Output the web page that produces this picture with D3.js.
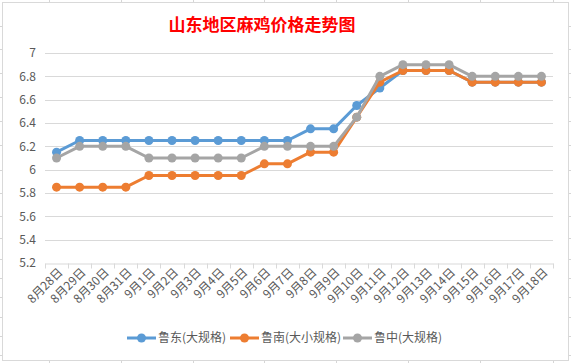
<!DOCTYPE html>
<html>
<head>
<meta charset="utf-8">
<script src="https://cdn.jsdelivr.net/npm/d3@7"></script>
<style>
  body { margin: 0; background: #fff; }
  text { font-family: "Noto Sans CJK SC", "Noto Sans", sans-serif; }
</style>
</head>
<body>
<div id="chart"></div>
<script>
const categories = ["8月28日", "8月29日", "8月30日", "8月31日", "9月1日", "9月2日", "9月3日", "9月4日",
  "9月5日", "9月6日", "9月7日", "9月8日", "9月9日", "9月10日", "9月11日", "9月12日", "9月13日",
  "9月14日", "9月15日", "9月16日", "9月17日", "9月18日"];

const ludong = [6.15, 6.25, 6.25, 6.25, 6.25, 6.25, 6.25, 6.25, 6.25, 6.25, 6.25, 6.35, 6.35,
  6.55, 6.7, 6.85, 6.85, 6.85, 6.75, 6.75, 6.75, 6.75];
const lunan = [5.85, 5.85, 5.85, 5.85, 5.95, 5.95, 5.95, 5.95, 5.95, 6.05, 6.05, 6.15, 6.15,
  6.45, 6.75, 6.85, 6.85, 6.85, 6.75, 6.75, 6.75, 6.75];
const luzhong = [6.1, 6.2, 6.2, 6.2, 6.1, 6.1, 6.1, 6.1, 6.1, 6.2, 6.2, 6.2, 6.2,
  6.45, 6.8, 6.9, 6.9, 6.9, 6.8, 6.8, 6.8, 6.8];

const seriesNames = ["鲁东(大规格)", "鲁南(大小规格)", "鲁中(大规格)"];
const yTicks = [5.2, 5.4, 5.6, 5.8, 6, 6.2, 6.4, 6.6, 6.8, 7];

const title = "山东地区麻鸡价格走势图";

const width = 571, height = 363;
const colors = ["#5b9bd5", "#ed7d31", "#a5a5a5"];
const series = [ludong, lunan, luzhong];

const svg = d3.select("#chart").append("svg")
  .attr("width", width)
  .attr("height", height);

// spreadsheet grid peeking around the chart
const sheet = svg.append("g").attr("stroke", "#d6d6d6").attr("stroke-width", 1);
[49, 121, 193, 264, 336, 408, 480, 553].forEach(x => {
  sheet.append("line").attr("x1", x + 0.5).attr("x2", x + 0.5).attr("y1", 0).attr("y2", 2);
  sheet.append("line").attr("x1", x + 0.5).attr("x2", x + 0.5).attr("y1", 361).attr("y2", 363);
});
[26, 49, 73, 97, 121, 145, 170, 193, 216, 238, 259, 278, 297, 317, 336, 355].forEach(y => {
  sheet.append("line").attr("x1", 0).attr("x2", 2).attr("y1", y + 0.5).attr("y2", y + 0.5);
  sheet.append("line").attr("x1", 569).attr("x2", 571).attr("y1", y + 0.5).attr("y2", y + 0.5);
});

// chart area
svg.append("rect")
  .attr("x", 2.5).attr("y", 2.5)
  .attr("width", 566).attr("height", 358)
  .attr("fill", "#fff")
  .attr("stroke", "#d9d9d9");

svg.append("text")
  .attr("x", 262).attr("y", 31)
  .attr("text-anchor", "middle")
  .attr("fill", "#ff0000")
  .attr("font-size", 17)
  .attr("font-weight", "bold")
  .text(title);

const x = d3.scaleBand()
  .domain(categories)
  .range([45, 553]);

const y = d3.scaleLinear()
  .domain([5.2, 7])
  .range([263, 53]);

// gridlines
svg.append("g")
  .selectAll("line")
  .data(yTicks.slice(1))
  .join("line")
  .attr("x1", 45).attr("x2", 553)
  .attr("y1", d => Math.round(y(d)) + 0.5)
  .attr("y2", d => Math.round(y(d)) + 0.5)
  .attr("stroke", "#d9d9d9");

// y labels
svg.append("g")
  .selectAll("text")
  .data(yTicks)
  .join("text")
  .attr("x", 36)
  .attr("y", d => y(d))
  .attr("dy", "0.35em")
  .attr("text-anchor", "end")
  .attr("fill", "#595959")
  .attr("font-size", 12)
  .text(d => d);

// x axis
const xAxis = svg.append("g")
  .attr("transform", `translate(0, ${Math.round(y(5.2)) + 0.5})`)
  .call(d3.axisBottom(x).tickSize(0).tickFormat(""));
xAxis.select(".domain").attr("stroke", "#d9d9d9");
xAxis.selectAll(".tickmark")
  .data(categories.map(c => x(c)).concat([x.range()[1]]))
  .join("line")
  .attr("class", "tickmark")
  .attr("x1", d => Math.round(d) + 0.5).attr("x2", d => Math.round(d) + 0.5)
  .attr("y1", 0).attr("y2", 5)
  .attr("stroke", "#d9d9d9");

svg.append("g")
  .selectAll("text")
  .data(categories)
  .join("text")
  .attr("transform", d => `translate(${x(d) + x.bandwidth() / 2 + 4}, 270) rotate(-45)`)
  .attr("dy", "0.35em")
  .attr("text-anchor", "end")
  .attr("fill", "#595959")
  .attr("font-size", 12)
  .text(d => d);

// lines
const line = d3.line()
  .x((d, i) => x(categories[i]) + x.bandwidth() / 2)
  .y(d => y(d));

series.forEach((vals, k) => {
  const g = svg.append("g");
  g.append("path")
    .datum(vals)
    .attr("d", line)
    .attr("fill", "none")
    .attr("stroke", colors[k])
    .attr("stroke-width", 3)
    .attr("stroke-linejoin", "round");
  g.selectAll("circle")
    .data(vals)
    .join("circle")
    .attr("cx", (d, i) => x(categories[i]) + x.bandwidth() / 2)
    .attr("cy", d => y(d))
    .attr("r", 4.5)
    .attr("fill", colors[k]);
});

// legend
const legendX = [127, 230, 343];
const legend = svg.append("g");
seriesNames.forEach((name, k) => {
  const g = legend.append("g").attr("transform", `translate(${legendX[k]}, 338)`);
  g.append("line").attr("x1", 0).attr("x2", 29).attr("stroke", colors[k]).attr("stroke-width", 3);
  g.append("circle").attr("cx", 14.5).attr("r", 4.5).attr("fill", colors[k]);
  g.append("text")
    .attr("x", 31).attr("dy", "0.35em")
    .attr("fill", "#595959")
    .attr("font-size", 12)
    .text(name);
});
</script>
</body>
</html>
